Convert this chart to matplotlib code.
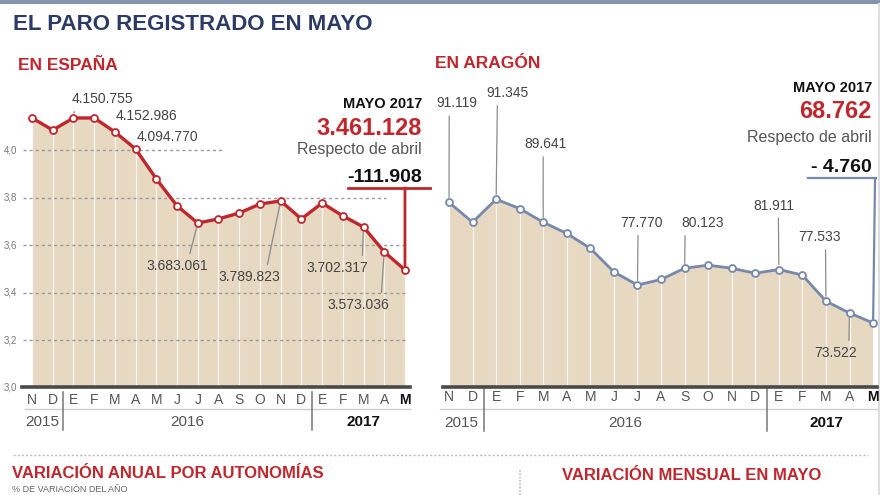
import matplotlib
matplotlib.use("Agg")
import matplotlib.pyplot as plt
import matplotlib.transforms as mtransforms
from matplotlib.patches import Rectangle

plt.rcParams['font.family'] = ['Liberation Sans', 'DejaVu Sans']

W, H = 880, 495

# ---- datos ----
meses = ["N", "D", "E", "F", "M", "A", "M", "J", "J", "A", "S", "O", "N", "D",
         "E", "F", "M", "A", "M"]
anios = ["2015", "2016", "2017"]
# paro en España (millones)
espana = [4.137, 4.086, 4.137, 4.137, 4.078, 4.006, 3.880, 3.766, 3.694, 3.711,
          3.736, 3.774, 3.787, 3.711, 3.778, 3.724, 3.677, 3.572, 3.496]
# paro en Aragón (miles)
aragon = [91.1, 87.9, 91.6, 90.1, 87.9, 86.1, 83.7, 79.9, 77.8, 78.7,
          80.5, 81.0, 80.5, 79.7, 80.3, 79.4, 75.2, 73.3, 71.7]
ticks_espana = [3.0, 3.2, 3.4, 3.6, 3.8, 4.0]
ticks_espana_txt = ["3,0", "3,2", "3,4", "3,6", "3,8", "4,0"]

etiq_espana = [(2, "4.150.755"), (3, "4.152.986"), (4, "4.094.770"), (8, "3.683.061"),
               (12, "3.789.823"), (16, "3.702.317"), (17, "3.573.036")]
etiq_aragon = [(0, "91.119"), (2, "91.345"), (4, "89.641"), (8, "77.770"),
               (10, "80.123"), (14, "81.911"), (16, "77.533"), (17, "73.522")]

mayo_espana = ["MAYO 2017", "3.461.128", "Respecto de abril", "-111.908"]
mayo_aragon = ["MAYO 2017", "68.762", "Respecto de abril", "- 4.760"]

# ---- estilos ----
ROJO = '#c0272d'
AZUL = '#2c3a66'
PIZARRA = '#7689ad'
TOSTADO = '#e6d8c1'
GRIS_TXT = '#444444'

# posicion de cada etiqueta respecto a su punto (px) y punto de la guia
pos_espana = {2: (29, 19, (0.05, 0)), 3: (52, 2, None), 4: (53, -5, None),
              8: (-21, -43, (0.69, 1)), 12: (-31, -76, (0.77, 1)),
              16: (-26, -41, (0.9, 1)), 17: (-26, -53, (0.87, 1))}
pos_aragon = {0: (8, 99, (0.31, 0)), 2: (11, 106, (0.27, 0)), 4: (2, 78, (0.45, 0)),
              8: (4, 62, (0.42, 0)), 10: (18, 45, (0.09, 0)), 14: (-5, 64, (0.61, 0)),
              16: (-6, 64, (0.63, 0)), 17: (-14, -40, (0.81, 1))}

fig = plt.figure(figsize=(8.8, 4.95), dpi=100)
bg = fig.add_axes([0, 0, 1, 1], zorder=0)
bg.set_xlim(0, W)
bg.set_ylim(H, 0)
bg.axis('off')


def px_axes(x0, y0, x1, y1):
    a = fig.add_axes([x0 / W, 1 - y1 / H, (x1 - x0) / W, (y1 - y0) / H], zorder=1)
    a.axis('off')
    a.patch.set_alpha(0)
    return a


# cabecera
bg.add_patch(Rectangle((0, 0), W, 4, color='#8693ae', lw=0))
bg.plot([878.5, 878.5], [4, H], color='#dddddd', lw=1.5)
bg.text(13, 24, "EL PARO REGISTRADO EN MAYO", color=AZUL, fontsize=16,
        fontweight='bold', va='center', ha='left')
bg.text(18, 65, "EN ESPAÑA", color=ROJO, fontsize=12.5, fontweight='bold', va='center')
bg.text(435, 64, "EN ARAGÓN", color=ROJO, fontsize=12.5, fontweight='bold', va='center')


def dibuja(ax, vals, color, y0, etiquetas, posiciones, lw, month_y, year_y):
    x = list(range(len(vals)))
    ax.fill_between(x, vals, y0, color=TOSTADO, lw=0, zorder=1)
    ax.vlines(x, y0, vals, color='white', lw=1.0, alpha=0.75, zorder=2)
    ax.plot(x, vals, color=color, lw=lw, zorder=4, solid_joinstyle='round')
    ax.plot(x, vals, 'o', ms=5, mfc='white', mec=color, mew=1.3, zorder=5)
    ax.axhline(y0, color='#4a4a4a', lw=2.6, zorder=6, clip_on=False)

    for i, txt in etiquetas:
        dx, dy, rel = posiciones[i]
        kw = {}
        if rel is not None:
            kw['arrowprops'] = dict(arrowstyle='-', color='#8c8c8c', lw=0.9,
                                    relpos=rel, shrinkA=2, shrinkB=3.5)
        ax.annotate(txt, xy=(i, vals[i]), xytext=(dx, dy), textcoords='offset pixels',
                    ha='center', va='center', fontsize=10, color=GRIS_TXT,
                    annotation_clip=False, zorder=7, **kw)

    tr = mtransforms.blended_transform_factory(ax.transData, bg.transData)
    n = len(meses)
    for i, m in enumerate(meses):
        last = i == n - 1
        ax.text(i, month_y, m, transform=tr, ha='center', va='center', fontsize=10,
                color='#111111' if last else '#555555',
                fontweight='bold' if last else 'normal')
    for xs in (1.5, 13.5):
        ax.plot([xs, xs], [month_y - 8, year_y + 8], transform=tr, color='#777777',
                lw=1.1, clip_on=False)
    centros = [0.5, 7.5, 16]
    for c, a in zip(centros, anios):
        bold = a == anios[-1]
        ax.text(c, year_y, a, transform=tr, ha='center', va='center', fontsize=11,
                color='#111111' if bold else '#555555',
                fontweight='bold' if bold else 'normal')
    return tr


# ---- España ----
axl = px_axes(22, 90, 410, 387.5)
axl.set_xlim((22 - 32) / 20.72, (410 - 32) / 20.72)
axl.set_ylim(3.0, 4.255)
fin_grid = {4.0: 9.2, 3.8: 17.1}
for v, t in zip(ticks_espana, ticks_espana_txt):
    if v > 3.0:
        axl.hlines(v, -0.45, fin_grid.get(v, 18), color='#9b9b9b', lw=1.0,
                   linestyles=(0, (2.2, 2.2)), zorder=3)
    axl.text(-0.72, v, t, ha='right', va='center', fontsize=7, color='#7a7a7a')
dibuja(axl, espana, ROJO, 3.0, etiq_espana, pos_espana, 2.4, 400, 422)
bg.plot([25, 410], [409, 409], color='#cccccc', lw=1)

tam = [10.5, 17, 11.5, 14]
base_l = [108, 135, 154, 182]
for txt, fs, yb, c, fw in zip(mayo_espana, tam, base_l,
                              ['#111111', ROJO, '#555555', '#111111'],
                              ['bold', 'bold', 'normal', 'bold']):
    bg.text(422, yb, txt, ha='right', va='baseline', fontsize=fs, color=c, fontweight=fw)
bg.plot([348, 430], [188, 188], color=ROJO, lw=2)
axl.annotate("", xy=(18, espana[-1]), xytext=(0, 270 - 188), textcoords='offset pixels',
             arrowprops=dict(arrowstyle='-', color=ROJO, lw=2, shrinkA=0, shrinkB=3),
             annotation_clip=False)

# ---- Aragón ----
axr = px_axes(443, 60, 877, 387)
axr.set_xlim((443 - 449) / 23.56, (877 - 449) / 23.56)
axr.set_ylim(61.4, 114.0)
dibuja(axr, aragon, PIZARRA, 61.4, etiq_aragon, pos_aragon, 2.0, 397, 423)
bg.plot([440, 877], [409, 409], color='#cccccc', lw=1)

base_r = [92, 118, 142, 172]
for txt, fs, yb, c, fw in zip(mayo_aragon, tam, base_r,
                              ['#111111', ROJO, '#555555', '#111111'],
                              ['bold', 'bold', 'normal', 'bold']):
    bg.text(872, yb, txt, ha='right', va='baseline', fontsize=fs, color=c, fontweight=fw)
bg.plot([808, 876], [178, 178], color=PIZARRA, lw=1.6)
axr.annotate("", xy=(18, aragon[-1]), xytext=(2, 323 - 178), textcoords='offset pixels',
             arrowprops=dict(arrowstyle='-', color=PIZARRA, lw=1.6, shrinkA=0, shrinkB=3),
             annotation_clip=False)

# ---- pie ----
bg.plot([13, 868], [455, 455], color='#bbbbbb', lw=1, ls=(0, (1.5, 1.5)))
bg.text(12, 474, "VARIACIÓN ANUAL POR AUTONOMÍAS", color=ROJO, fontsize=12,
        fontweight='bold', va='center')
bg.text(562, 476, "VARIACIÓN MENSUAL EN MAYO", color=ROJO, fontsize=12,
        fontweight='bold', va='center')
bg.text(12, 485.5, "% DE VARIACIÓN DEL AÑO", color='#666666', fontsize=6.5, va='top')
bg.plot([520, 520], [470, 495], color='#bbbbbb', lw=1.2, ls=(0, (1, 1)))

fig.savefig("out.png", dpi=100)
